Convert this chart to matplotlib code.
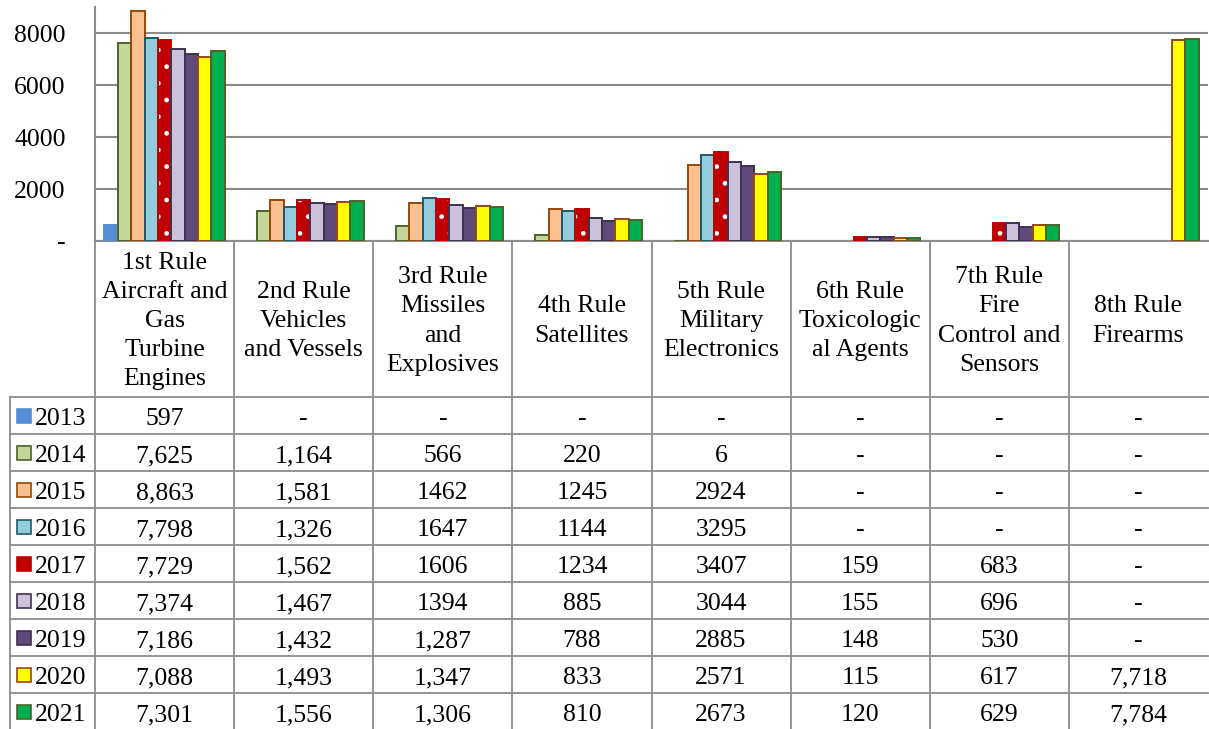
import numpy as np
import matplotlib.pyplot as plt
from matplotlib.patches import Rectangle
from matplotlib.ticker import FuncFormatter

plt.rcParams['font.family'] = ['Liberation Serif', 'DejaVu Serif']

# ---------------------------
# Data (as printed in the data table)
# ---------------------------
rules = ["1st Rule\nAircraft and\nGas\nTurbine\nEngines",
         "2nd Rule\nVehicles\nand Vessels",
         "3rd Rule\nMissiles\nand\nExplosives",
         "4th Rule\nSatellites",
         "5th Rule\nMilitary\nElectronics",
         "6th Rule\nToxicologic\nal Agents",
         "7th Rule\nFire\nControl and\nSensors",
         "8th Rule\nFirearms"]
years = ["2013", "2014", "2015", "2016", "2017", "2018", "2019", "2020", "2021"]

y2013 = ["597", "-", "-", "-", "-", "-", "-", "-"]
y2014 = ["7,625", "1,164", "566", "220", "6", "-", "-", "-"]
y2015 = ["8,863", "1,581", "1462", "1245", "2924", "-", "-", "-"]
y2016 = ["7,798", "1,326", "1647", "1144", "3295", "-", "-", "-"]
y2017 = ["7,729", "1,562", "1606", "1234", "3407", "159", "683", "-"]
y2018 = ["7,374", "1,467", "1394", "885", "3044", "155", "696", "-"]
y2019 = ["7,186", "1,432", "1,287", "788", "2885", "148", "530", "-"]
y2020 = ["7,088", "1,493", "1,347", "833", "2571", "115", "617", "7,718"]
y2021 = ["7,301", "1,556", "1,306", "810", "2673", "120", "629", "7,784"]
series = [y2013, y2014, y2015, y2016, y2017, y2018, y2019, y2020, y2021]

fills = ["#558ED5", "#C3D69B", "#FAC090", "#93CDDD", "#C00000",
         "#CCC1DA", "#604A7B", "#FFFF00", "#00B050"]
edges = ["#558ED5", "#4F6228", "#984807", "#215968", "#C00000",
         "#3F3151", "#3F3151", "#984807", "#4F6228"]

# ---------------------------
# Layout (pixels)
# ---------------------------
W, H = 1209, 729
x0, x1 = 95, 1208
y_top, y_axis = 7, 241
head_bot = 397
row_h = 37
grey = "#8C8C8C"
fs = 18.5

fig = plt.figure(figsize=(W / 100, H / 100), dpi=100)
ax = fig.add_axes([x0 / W, 1 - y_axis / H, (x1 - x0) / W, (y_axis - y_top) / H])

n = len(rules)
bw = 0.096
for j, (vals, fc, ec) in enumerate(zip(series, fills, edges)):
    # skip the "-" cells, they have no bar
    xs = [i + (j - 4) * bw for i, s in enumerate(vals) if s != "-"]
    v = [float(s.replace(",", "")) for s in vals if s != "-"]
    if j == 4:
        ax.bar(xs, v, bw, color=fc, edgecolor="white", hatch=".", linewidth=0, zorder=3)
        ax.bar(xs, v, bw, fill=False, edgecolor=ec, linewidth=1.4, zorder=3)
    else:
        ax.bar(xs, v, bw, color=fc, edgecolor=ec, linewidth=1.4, zorder=3)

ax.set_xlim(-0.5, n - 0.5)
ax.set_ylim(0, 9000)
ax.set_yticks([0, 2000, 4000, 6000, 8000])
ax.yaxis.set_major_formatter(FuncFormatter(lambda v, p: "-" if v == 0 else f"{v:.0f}"))
ax.tick_params(axis="y", length=0, pad=21, labelsize=fs)
ax.set_xticks([])
ax.yaxis.grid(True, color=grey, linewidth=1.5)
ax.set_axisbelow(True)
for s in ["top", "right"]:
    ax.spines[s].set_visible(False)
for s in ["left", "bottom"]:
    ax.spines[s].set_color(grey)
    ax.spines[s].set_linewidth(1.5)

# ---------------------------
# Data table below the chart
# ---------------------------
tax = fig.add_axes([0, 0, 1, 1], zorder=-1)
tax.set_xlim(0, W)
tax.set_ylim(H, 0)
tax.axis("off")

cw = (x1 - x0) / n
col_edges = [x0 + i * cw for i in range(n + 1)]
tab_left = 10
lw = 1.3

for ce in col_edges[:-1]:
    tax.plot([ce, ce], [y_axis, H], color=grey, lw=lw)
tax.plot([tab_left, tab_left], [head_bot, H], color=grey, lw=lw)
for k in range(len(years) + 1):
    yy = head_bot + k * row_h
    tax.plot([tab_left, x1], [yy, yy], color=grey, lw=lw)

for i, lab in enumerate(rules):
    tax.text(x0 + (i + 0.5) * cw, (y_axis + head_bot) / 2 + 2, lab, ha="center", va="center",
             fontsize=fs, linespacing=1.42)

for r, (yr, vals) in enumerate(zip(years, series)):
    yc = head_bot + (r + 0.5) * row_h
    base = yc + 9.5
    tax.add_patch(Rectangle((17, yc - 7), 14, 14, facecolor=fills[r], edgecolor=edges[r], lw=1.2))
    tax.text(35, base, yr, ha="left", va="baseline", fontsize=fs)
    for i, s in enumerate(vals):
        tax.text(x0 + (i + 0.5) * cw, base, s, ha="center", va="baseline", fontsize=fs)

fig.savefig("out.png", dpi=100)
